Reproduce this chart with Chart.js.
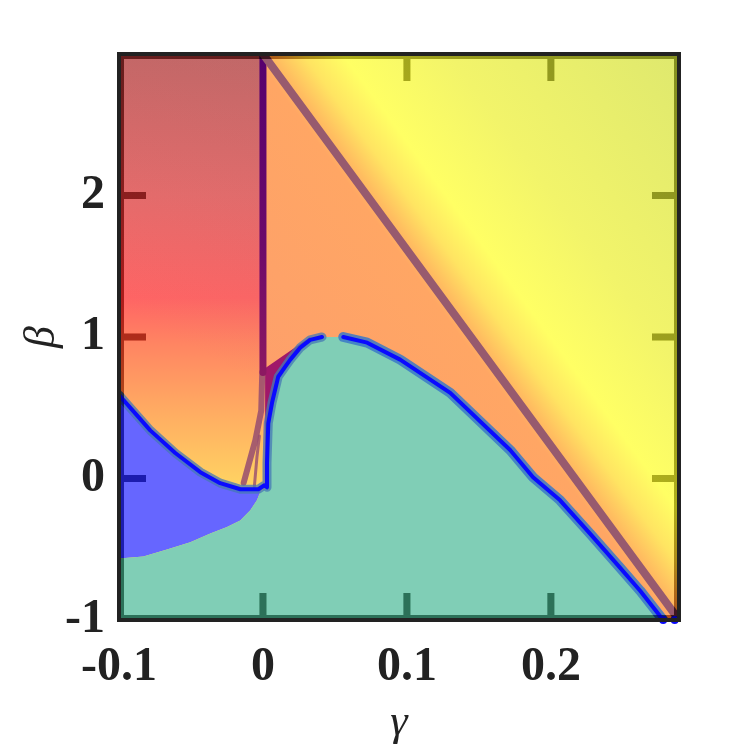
<!DOCTYPE html>
<html>
<head>
<meta charset="utf-8">
<script src="https://cdn.jsdelivr.net/npm/chart.js@4/dist/chart.umd.min.js"></script>
<style>
  html, body { margin: 0; padding: 0; background: #fff; }
  #wrap { width: 750px; height: 750px; }
</style>
</head>
<body>
<div id="wrap"><canvas id="phase" width="750" height="750"></canvas></div>
<script>
const gammaMin = -0.1;
const gammaMax = 0.289;
const betaMin = -1;
const betaMax = 3;

const xTicks = [-0.1, 0, 0.1, 0.2];
const yTicks = [-1, 0, 1, 2];
const xTickLabels = ['-0.1', '0', '0.1', '0.2'];
const yTickLabels = ['-1', '0', '1', '2'];

// upper edge of the blue region (left branch of the boundary)
const leftGamma = [-0.1, -0.0887, -0.0783, -0.0609, -0.0435, -0.0297, -0.0157, -0.0032, 0.001];
const leftBeta = [0.59, 0.46, 0.34, 0.18, 0.045, -0.033, -0.076, -0.076, -0.048];

// stepped edge between blue and green
const stepGamma = [-0.1, -0.0831, -0.0667, -0.0505, -0.0366, -0.025, -0.0158, -0.0088, -0.0042, -0.0019];
const stepBeta = [-0.566, -0.552, -0.502, -0.45, -0.388, -0.343, -0.296, -0.225, -0.154, -0.095];

// rising side of the green dome
const riseGamma = [0.0028, 0.0028, 0.0037, 0.0063, 0.0106, 0.0155, 0.019, 0.0259, 0.0328, 0.041];
const riseBeta = [-0.062, 0.109, 0.39, 0.535, 0.719, 0.79, 0.84, 0.925, 0.98, 1.0];

// falling side of the green dome
const fallGamma = [0.0558, 0.0724, 0.0953, 0.1301, 0.1717, 0.1876, 0.2064, 0.2272, 0.248, 0.262, 0.278];
const fallBeta = [1.0, 0.96, 0.84, 0.605, 0.201, 0.009, -0.154, -0.389, -0.63, -0.793, -1.0];

// dark wedge right of gamma = 0
const wedgeGamma = [0.0015, 0.0015, 0.0328];
const wedgeBeta = [0.109, 0.78, 1.0];

// line at gamma = 0 and its faded continuation
const vlineGamma = [0, 0];
const vlineBeta = [3, 0.75];
const ghostGamma = [-0.0005, -0.0012, -0.0053, -0.0099, -0.0134];
const ghostBeta = [0.75, 0.48, 0.27, 0.10, -0.03];
const ghost2Gamma = [-0.0025, -0.0042, -0.006];
const ghost2Beta = [0.3, 0.15, -0.06];

// diagonal line
const diagGamma = [0, 0.289];
const diagBeta = [3, -1];

// end points of the boundary on the bottom edge
const endGamma = [0.278, 0.286];
const endBeta = [-1, -1];

const pts = (g, b) => g.map((x, i) => ({ x, y: b[i] }));

const leftRect = pts([gammaMin, 0, 0, gammaMin], [betaMax, betaMax, betaMin, betaMin]);
const rightRect = pts([0, gammaMax, gammaMax, 0], [betaMax, betaMax, betaMin, betaMin]);
const bluePoly = [...pts(leftGamma, leftBeta), ...pts(stepGamma, stepBeta).reverse()];
const greenPoly = [
  { x: gammaMin, y: betaMin },
  ...pts(stepGamma, stepBeta),
  ...pts(riseGamma, riseBeta),
  ...pts(fallGamma, fallBeta),
  { x: gammaMax, y: betaMin },
];
const wedgePoly = [
  ...pts(wedgeGamma, wedgeBeta),
  ...pts(riseGamma, riseBeta).filter((p) => p.y > 0.1 && p.y < 0.99).reverse(),
];
const boundaryLeft = [...pts(leftGamma, leftBeta), ...pts(riseGamma, riseBeta)];
const boundaryRight = pts(fallGamma, fallBeta);

const leftStops = [
  [0, '#cc6464'], [0.25, '#ea6a6a'], [0.43, '#ff6464'], [0.51, '#ff8462'],
  [0.62, '#ffa862'], [0.78, '#ffd862'], [1, '#ffe060'],
];
const rightStops = [
  [-340, '#fc9a70'], [-8, '#ffa664'], [8, '#ffbe60'], [32, '#ffe462'],
  [64, '#ffff64'], [150, '#f2f46a'], [340, '#dee86e'],
];

function leftFill(context) {
  const { ctx, chartArea } = context.chart;
  if (!chartArea) return '#ff8060';
  const g = ctx.createLinearGradient(0, chartArea.top, 0, chartArea.bottom);
  leftStops.forEach(([t, c]) => g.addColorStop(t, c));
  return g;
}

function leftShade(context) {
  const { ctx, chartArea, scales } = context.chart;
  if (!chartArea) return 'rgba(0,0,0,0)';
  const g = ctx.createLinearGradient(chartArea.left, scales.y.getPixelForValue(1.2),
    scales.x.getPixelForValue(0), chartArea.top);
  g.addColorStop(0, 'rgba(147,120,120,0)');
  g.addColorStop(1, 'rgba(147,120,120,0.2)');
  return g;
}

function rightFill(context) {
  const { ctx, chartArea, scales } = context.chart;
  if (!chartArea) return '#ffa060';
  const x0 = scales.x.getPixelForValue(diagGamma[0]);
  const y0 = scales.y.getPixelForValue(diagBeta[0]);
  const x1 = scales.x.getPixelForValue(diagGamma[1]);
  const y1 = scales.y.getPixelForValue(diagBeta[1]);
  const len = Math.hypot(x1 - x0, y1 - y0);
  const nx = (y1 - y0) / len;
  const ny = -(x1 - x0) / len;
  const D = 340;
  const g = ctx.createLinearGradient(x0 - nx * D, y0 - ny * D, x0 + nx * D, y0 + ny * D);
  rightStops.forEach(([d, c]) => g.addColorStop((d + D) / (2 * D), c));
  return g;
}

function vlineColor(context) {
  const { ctx, chartArea, scales } = context.chart;
  if (!chartArea) return '#600068';
  const g = ctx.createLinearGradient(0, scales.y.getPixelForValue(vlineBeta[0]), 0,
    scales.y.getPixelForValue(vlineBeta[1]));
  g.addColorStop(0, '#55006e');
  g.addColorStop(0.6, '#6c0a6a');
  g.addColorStop(1, '#8c1862');
  return g;
}

const area = (data, color, order) => ({
  data, order, fill: 'shape', backgroundColor: color,
  borderWidth: 0, borderColor: 'transparent', pointRadius: 0, tension: 0,
});
const stroke = (data, color, width, order) => ({
  data, order, fill: false, borderColor: color, borderWidth: width,
  borderCapStyle: 'round', borderJoinStyle: 'round', pointRadius: 0, tension: 0,
});

// darker band and inward ticks, taken from the colours underneath, then the frame
const edgeShade = {
  id: 'edgeShade',
  afterDatasetsDraw(chart) {
    const { ctx, chartArea: a, scales } = chart;
    const L = a.left + 2, R = a.right - 2, T = a.top + 2, B = a.bottom - 2;
    const band = 3, len = 25, half = 3.5;
    ctx.save();
    ctx.beginPath();
    ctx.rect(L, T, band, B - T);
    ctx.rect(R - band, T, band, B - T);
    ctx.rect(L, T, R - L, band);
    ctx.rect(L, B - band, R - L, band);
    yTicks.filter((v) => v > betaMin && v < betaMax).forEach((v) => {
      const y = scales.y.getPixelForValue(v);
      ctx.rect(L, y - half, len, 2 * half);
      ctx.rect(R - len, y - half, len, 2 * half);
    });
    xTicks.filter((v) => v > gammaMin && v < gammaMax).forEach((v) => {
      const x = scales.x.getPixelForValue(v);
      // the top tick at gamma = 0 sits under the vertical line
      if (v !== 0) ctx.rect(x - half, T, 2 * half, len);
      ctx.rect(x - half, B - len, 2 * half, len);
    });
    ctx.clip();
    const snap = document.createElement('canvas');
    snap.width = chart.canvas.width;
    snap.height = chart.canvas.height;
    snap.getContext('2d').drawImage(chart.canvas, 0, 0);
    ctx.globalCompositeOperation = 'multiply';
    ctx.drawImage(snap, 0, 0, chart.width, chart.height);
    ctx.fillStyle = 'rgb(174,174,174)';
    ctx.fillRect(a.left, a.top, a.right - a.left, a.bottom - a.top);
    ctx.restore();

    ctx.save();
    ctx.strokeStyle = '#222222';
    ctx.lineWidth = 4;
    ctx.strokeRect(a.left, a.top, a.right - a.left, a.bottom - a.top);
    ctx.restore();
  },
};

const tickFont = { family: 'Liberation Serif', size: 48, weight: 'bold' };
const titleFont = { family: 'Liberation Serif', size: 44, style: 'italic', weight: 'normal' };

new Chart(document.getElementById('phase'), {
  type: 'line',
  data: {
    datasets: [
      {
        data: pts(endGamma, endBeta), order: 0, showLine: false, clip: false,
        pointRadius: 4, pointBackgroundColor: '#0a0aff', pointBorderWidth: 0,
      },
      stroke(boundaryLeft, '#0a0aff', 4, 1),
      stroke(boundaryRight, '#0a0aff', 4, 1),
      stroke(boundaryLeft, 'rgba(70,120,180,0.75)', 9, 2),
      stroke(boundaryRight, 'rgba(58,120,200,0.85)', 10, 2),
      stroke(pts(diagGamma, diagBeta), '#975a6e', 8, 3),
      stroke(pts(vlineGamma, vlineBeta), vlineColor, 7, 4),
      stroke(pts(ghostGamma, ghostBeta), 'rgba(150,76,112,0.85)', 6, 5),
      stroke(pts(ghost2Gamma, ghost2Beta), 'rgba(150,76,112,0.8)', 3, 5),
      area(greenPoly, '#80ceb6', 6),
      area(bluePoly, '#6666ff', 7),
      area(wedgePoly, '#a0186a', 8),
      area(leftRect, leftShade, 9),
      area(leftRect, leftFill, 10),
      area(rightRect, rightFill, 11),
    ],
  },
  options: {
    responsive: false,
    animation: false,
    devicePixelRatio: 1,
    layout: { padding: { top: 54, right: 71, bottom: 0, left: 0 } },
    plugins: { legend: { display: false }, tooltip: { enabled: false } },
    scales: {
      x: {
        type: 'linear',
        min: gammaMin,
        max: gammaMax,
        grid: { display: false, drawTicks: false },
        border: { display: false },
        afterBuildTicks: (scale) => { scale.ticks = xTicks.map((v) => ({ value: v })); },
        afterFit: (scale) => { scale.height = 130; },
        ticks: {
          autoSkip: false,
          maxRotation: 0,
          padding: 19,
          color: '#222222',
          font: tickFont,
          callback: (v) => xTickLabels[xTicks.indexOf(v)] ?? '',
        },
        title: { display: true, text: 'γ', color: '#222222', font: titleFont, padding: { top: 0, bottom: 0 } },
      },
      y: {
        type: 'linear',
        min: betaMin,
        max: betaMax,
        grid: { display: false, drawTicks: false },
        border: { display: false },
        afterBuildTicks: (scale) => { scale.ticks = yTicks.map((v) => ({ value: v })); },
        afterFit: (scale) => { scale.width = 119; },
        ticks: {
          autoSkip: false,
          padding: 14,
          color: '#222222',
          font: tickFont,
          callback: (v) => yTickLabels[yTicks.indexOf(v)] ?? '',
        },
        title: { display: true, text: 'β', color: '#222222', font: titleFont, padding: { top: 16, bottom: 0 } },
      },
    },
  },
  plugins: [edgeShade],
});
</script>
</body>
</html>
